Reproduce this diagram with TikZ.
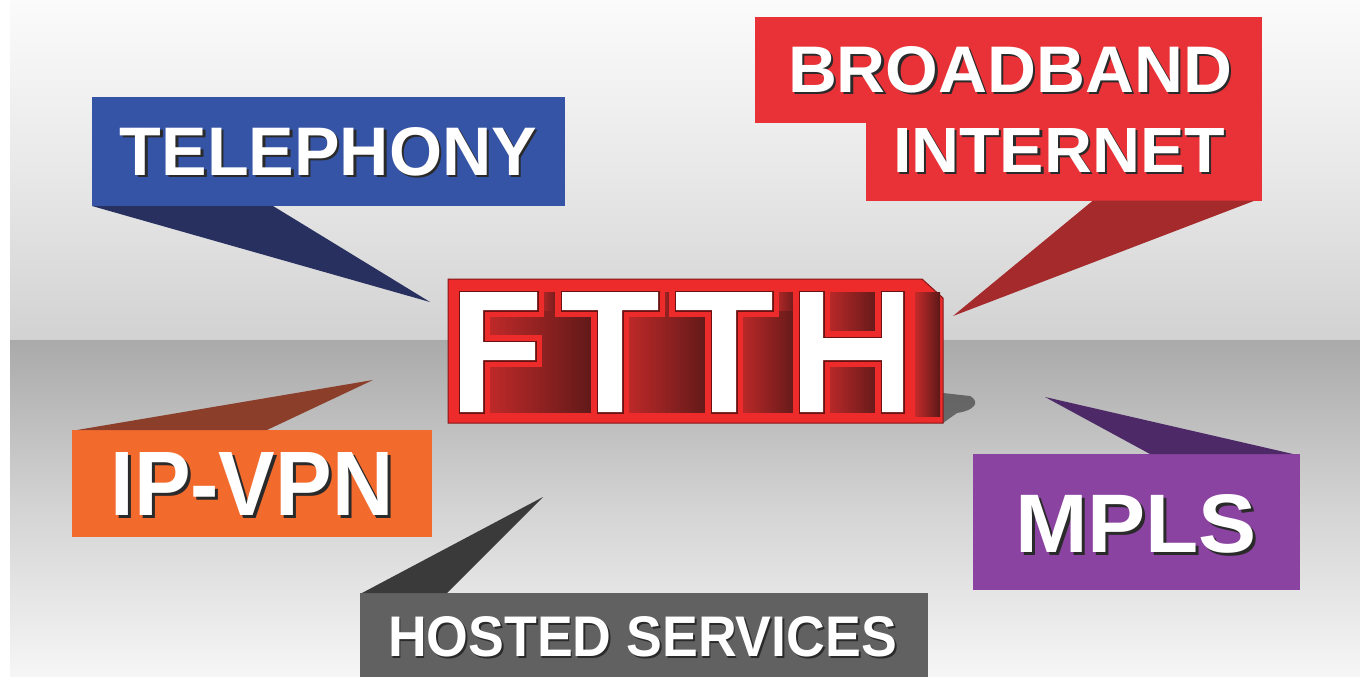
\documentclass[tikz,border=0pt]{standalone}
\usepackage{fontspec}
\usepackage{graphicx}
\setmainfont{Liberation Sans}
\usetikzlibrary{calc}
\definecolor{telbox}{HTML}{3554A5}
\definecolor{teltail}{HTML}{283060}
\definecolor{bbbox}{HTML}{E83237}
\definecolor{bbtail}{HTML}{A52A2C}
\definecolor{ipbox}{HTML}{F26B2D}
\definecolor{iptail}{HTML}{8B3F2B}
\definecolor{hsbox}{HTML}{616161}
\definecolor{hstail}{HTML}{3A3A3A}
\definecolor{mpbox}{HTML}{8A43A0}
\definecolor{mptail}{HTML}{4D2968}
\definecolor{ftthred}{HTML}{EE2B2B}
\definecolor{ftthdark}{HTML}{6A1212}
\definecolor{gapL}{HTML}{C42A2A}
\definecolor{gapR}{HTML}{5C1818}
\definecolor{txtshadow}{HTML}{2A2A2A}
\definecolor{skyA}{HTML}{FBFBFB}
\definecolor{skyB}{HTML}{D2D2D2}
\definecolor{floorA}{HTML}{AAAAAA}
\definecolor{floorB}{HTML}{F6F6F6}
\newcommand\lbl[3]{\resizebox{#1pt}{#2pt}{\rlap{\smash{\kern0.035em\raisebox{-0.035em}{\color{txtshadow}#3}}}\color{white}#3}}
\newcommand\ftthletter[1]{%
  \draw[ftthred, line width=14pt, line join=miter] #1;
  \draw[ftthdark, line width=3pt, line join=miter] #1;
  \fill[white] #1;}
\begin{document}
\begin{tikzpicture}[x=1pt,y=-1pt,
  lblbox/.style={rectangle, inner sep=0pt, outer sep=0pt, font=\bfseries\fontsize{50}{50}\selectfont},
  gap/.style={left color=gapL, right color=gapR},
]
\useasboundingbox (0,0) rectangle (1360,677);
% background
\fill[white] (0,0) rectangle (1360,677);
\shade[top color=skyA, bottom color=skyB, middle color=skyA!55!skyB] (10,0) rectangle (1360,340);
\shade[top color=floorA, bottom color=floorB, middle color=floorA!45!floorB] (10,340) rectangle (1360,677);

% tips of the callouts
\coordinate (tel-tip) at (430,302);
\coordinate (bb-tip) at (953,316);
\coordinate (ip-tip) at (373,380);
\coordinate (hs-tip) at (543,497);
\coordinate (mp-tip) at (1045,397);

% boxes
\node[lblbox, fill=telbox, minimum width=473pt, minimum height=109pt] (tel) at (328.5,151.5) {};
\node[lblbox, fill=bbbox, minimum width=507pt, minimum height=106pt] (bbup) at (1008.5,70) {};
\node[lblbox, fill=bbbox, minimum width=396pt, minimum height=78pt] (bblow) at (1064,161.5) {};
\node[lblbox, fill=ipbox, minimum width=360pt, minimum height=107pt] (ip) at (252,483.5) {};
\node[lblbox, fill=hsbox, minimum width=568pt, minimum height=90pt] (hs) at (644,638) {};
\node[lblbox, fill=mpbox, minimum width=327pt, minimum height=136pt] (mp) at (1136.5,522) {};

% callout tails
\fill[teltail] (tel.south west) -- ($(tel.south west)+(181,0)$) -- (tel-tip) -- cycle;
\fill[bbtail] ($(bblow.south east)+(-7,0)$) -- ($(bblow.south east)+(-169,0)$) -- (bb-tip) -- cycle;
\fill[iptail] ($(ip.north west)+(5,0)$) -- ($(ip.north west)+(195,0)$) -- (ip-tip) -- cycle;
\fill[hstail] ($(hs.north west)+(2,0)$) -- ($(hs.north west)+(87,0)$) -- (hs-tip) -- cycle;
\fill[mptail] ($(mp.north east)+(-7,0)$) -- ($(mp.north east)+(-150,0)$) -- (mp-tip) -- cycle;

% labels
\node[lblbox] (tel-t) at (tel.center) {\lbl{417}{48}{TELEPHONY}};
\node[lblbox] (bb-t1) at (1010,70) {\lbl{444}{46}{BROADBAND}};
\node[lblbox] (bb-t2) at (1059,150) {\lbl{332}{44}{INTERNET}};
\node[lblbox] (ip-t) at (ip.center) {\lbl{283}{63}{IP-VPN}};
\node[lblbox] (hs-t) at (642.5,637) {\lbl{509}{40}{HOSTED SERVICES}};
\node[lblbox] (mp-t) at (1136,524) {\lbl{242}{58}{MPLS}};

% FTTH block
\node[lblbox, minimum width=474pt, minimum height=144pt] (ftth) at (685,351) {};
\fill[black, opacity=0.45] ($(ftth.south east)+(21,-30)$) -- ($(ftth.south east)+(48,-27)$)
  .. controls ($(ftth.south east)+(60,-20)$) and ($(ftth.south east)+(50,-12)$) .. ($(ftth.south east)+(35,-10)$)
  -- ($(ftth.south east)+(21,0)$) -- cycle;
\fill[ftthred, draw=ftthdark!80!ftthred, line width=1pt]
  (ftth.north west) -- (ftth.north east) -- ($(ftth.north east)+(21,19)$)
  -- ($(ftth.south east)+(21,0)$) -- (ftth.south west) -- cycle;
% recessed gaps
\fill[gap] (483,310) rectangle (598,412);
\fill[gap] (537,292) rectangle (562,310);
\fill[gap] (622,310) rectangle (712,412);
\fill[gap] (658,292) rectangle (676,310);
\fill[gap] (736,310) rectangle (800,412);
\fill[gap] (772,292) rectangle (800,310);
\fill[gap] (823,292) rectangle (882,338);
\fill[gap] (823,360) rectangle (882,412);
\fill[gap] (915,292) rectangle (940,416);
% letters
\ftthletter{(460,292)--(537,292)--(537,310)--(483,310)--(483,342)--(535,342)--(535,360)--(483,360)--(483,412)--(460,412)--cycle}
\ftthletter{(562,292)--(658,292)--(658,310)--(622,310)--(622,412)--(598,412)--(598,310)--(562,310)--cycle}
\ftthletter{(676,292)--(772,292)--(772,310)--(736,310)--(736,412)--(712,412)--(712,310)--(676,310)--cycle}
\ftthletter{(800,292)--(823,292)--(823,338)--(882,338)--(882,292)--(903,292)--(903,412)--(882,412)--(882,360)--(823,360)--(823,412)--(800,412)--cycle}
\end{tikzpicture}
\end{document}
